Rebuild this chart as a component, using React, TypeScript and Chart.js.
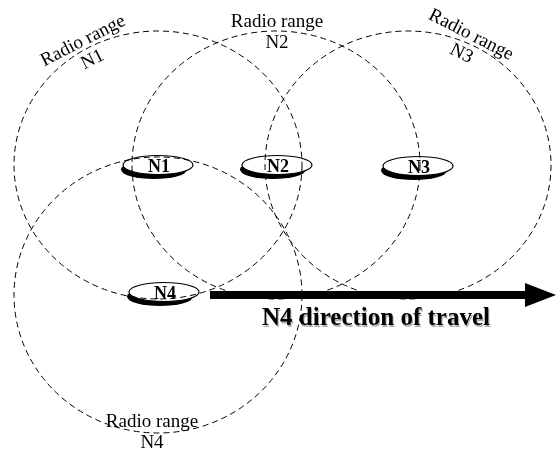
import React, { useEffect, useRef } from "react";
import { Chart, registerables } from "chart.js";

Chart.register(...registerables);

// Radio range circles (centre and radii, diagram units)
const rangeNames = ["N1", "N2", "N3", "N4"];
const rangeCX = [158, 276, 408, 158];
const rangeCY = [165, 165, 165, 295];
const rangeRX = [144, 144, 143, 144];
const rangeRY = [134, 134, 134, 138];

// Nodes
const nodeNames = ["N1", "N2", "N3", "N4"];
const nodeX = [158, 277, 418, 164];
const nodeY = [165, 165, 166, 292];

// Radio range labels
const labelLine1 = ["Radio range", "Radio range", "Radio range", "Radio range"];
const labelLine2 = ["N1", "N2", "N3", "N4"];
const labelX = [83, 277, 471, 152];
const labelY = [41, 22, 35, 422];
const labelAngle = [-27, 0, 27, 0];

// Travel arrow
const arrowFromX = 210;
const arrowToX = 556;
const arrowY = 295;
const arrowText = "N4 direction of travel";
const arrowTextX = 376;
const arrowTextY = 325;

const diagramPlugin = {
  id: "diagram",
  beforeDatasetsDraw(chart: any) {
    const { ctx, scales } = chart;
    const xs = scales.x;
    const ys = scales.y;
    ctx.save();
    ctx.strokeStyle = "#000";
    ctx.lineWidth = 1;
    ctx.setLineDash([6, 4]);
    for (let i = 0; i < rangeNames.length; i++) {
      const cx = xs.getPixelForValue(rangeCX[i]);
      const cy = ys.getPixelForValue(rangeCY[i]);
      const rx = Math.abs(xs.getPixelForValue(rangeCX[i] + rangeRX[i]) - cx);
      const ry = Math.abs(ys.getPixelForValue(rangeCY[i] + rangeRY[i]) - cy);
      ctx.beginPath();
      ctx.ellipse(cx, cy, rx, ry, 0, 0, Math.PI * 2);
      ctx.stroke();
    }
    ctx.restore();
  },
  afterDatasetsDraw(chart: any) {
    const { ctx, scales, width, height } = chart;
    const xs = scales.x;
    const ys = scales.y;
    // arrow head
    const arrowMeta = chart.getDatasetMeta(2);
    const tip = arrowMeta.data[1];
    const tipX = xs.getPixelForValue(arrowToX);
    ctx.save();
    ctx.fillStyle = "#000";
    ctx.beginPath();
    ctx.moveTo(tipX, tip.y);
    ctx.lineTo(tipX - 31, tip.y - 12);
    ctx.lineTo(tipX - 31, tip.y + 12);
    ctx.closePath();
    ctx.fill();
    ctx.restore();

    // nodes
    const nodeMeta = chart.getDatasetMeta(1);
    nodeMeta.data.forEach((pt: any, i: number) => {
      const x = pt.x;
      const y = pt.y;
      const rx = 35;
      const ry = 9.5;
      ctx.save();
      ctx.beginPath();
      ctx.rect(0, 0, width, height);
      ctx.ellipse(x, y, rx, ry, 0, 0, Math.PI * 2);
      ctx.clip("evenodd");
      ctx.fillStyle = "#000";
      ctx.beginPath();
      ctx.ellipse(x - 4, y + 4.5, rx - 2, ry, 0, 0, Math.PI * 2);
      ctx.fill();
      ctx.restore();
      ctx.save();
      ctx.strokeStyle = "#000";
      ctx.lineWidth = 1.2;
      ctx.beginPath();
      ctx.ellipse(x, y, rx, ry, 0, 0, Math.PI * 2);
      ctx.stroke();
      ctx.fillStyle = "#000";
      ctx.font = "bold 18px 'Liberation Serif', serif";
      ctx.textAlign = "center";
      ctx.textBaseline = "middle";
      ctx.fillText(nodeNames[i], x + 1, y + 2);
      ctx.restore();
    });

    // range labels
    for (let i = 0; i < labelLine1.length; i++) {
      const x = xs.getPixelForValue(labelX[i]);
      const y = ys.getPixelForValue(labelY[i]);
      ctx.save();
      ctx.translate(x, y);
      ctx.rotate((labelAngle[i] * Math.PI) / 180);
      ctx.fillStyle = "#000";
      ctx.font = "19px 'Liberation Serif', serif";
      ctx.textAlign = "center";
      ctx.textBaseline = "middle";
      ctx.fillText(labelLine1[i], 0, 0);
      ctx.fillText(labelLine2[i], 0, 21);
      ctx.restore();
    }

    // arrow caption
    ctx.save();
    ctx.font = "bold 25px 'Liberation Serif', serif";
    ctx.textAlign = "center";
    ctx.textBaseline = "alphabetic";
    ctx.fillStyle = "#b0b0b0";
    ctx.fillText(arrowText, xs.getPixelForValue(arrowTextX) + 1, ys.getPixelForValue(arrowTextY) + 1.5);
    ctx.fillStyle = "#000";
    ctx.fillText(arrowText, xs.getPixelForValue(arrowTextX), ys.getPixelForValue(arrowTextY));
    ctx.restore();
  },
};

export default function App() {
  const ref = useRef<HTMLCanvasElement | null>(null);
  useEffect(() => {
    if (!ref.current) return;
    const chart = new Chart(ref.current, {
      type: "scatter",
      data: {
        datasets: [
          {
            label: "Radio range",
            data: rangeCX.map((x, i) => ({ x, y: rangeCY[i] })),
            pointRadius: 0,
            showLine: false,
          },
          {
            label: "Nodes",
            data: nodeX.map((x, i) => ({ x, y: nodeY[i] })),
            pointRadius: 0,
            showLine: false,
          },
          {
            label: "Travel",
            data: [
              { x: arrowFromX, y: arrowY },
              { x: arrowToX - 28, y: arrowY },
            ],
            showLine: true,
            borderColor: "#000",
            borderWidth: 8,
            pointRadius: 0,
            borderCapStyle: "butt",
          },
        ],
      },
      options: {
        animation: false,
        responsive: false,
        devicePixelRatio: 1,
        layout: { padding: 0 },
        plugins: {
          legend: { display: false },
          tooltip: { enabled: false },
          title: { display: false },
        },
        scales: {
          x: { type: "linear", min: 0, max: 556, display: false },
          y: { type: "linear", min: 0, max: 450, reverse: true, display: false },
        },
      },
      plugins: [diagramPlugin],
    } as any);
    return () => chart.destroy();
  }, []);
  return (
    <div style={{ position: "absolute", left: 0, top: 0, width: 556, height: 450, background: "#fff" }}>
      <canvas ref={ref} width={556} height={450} />
    </div>
  );
}
